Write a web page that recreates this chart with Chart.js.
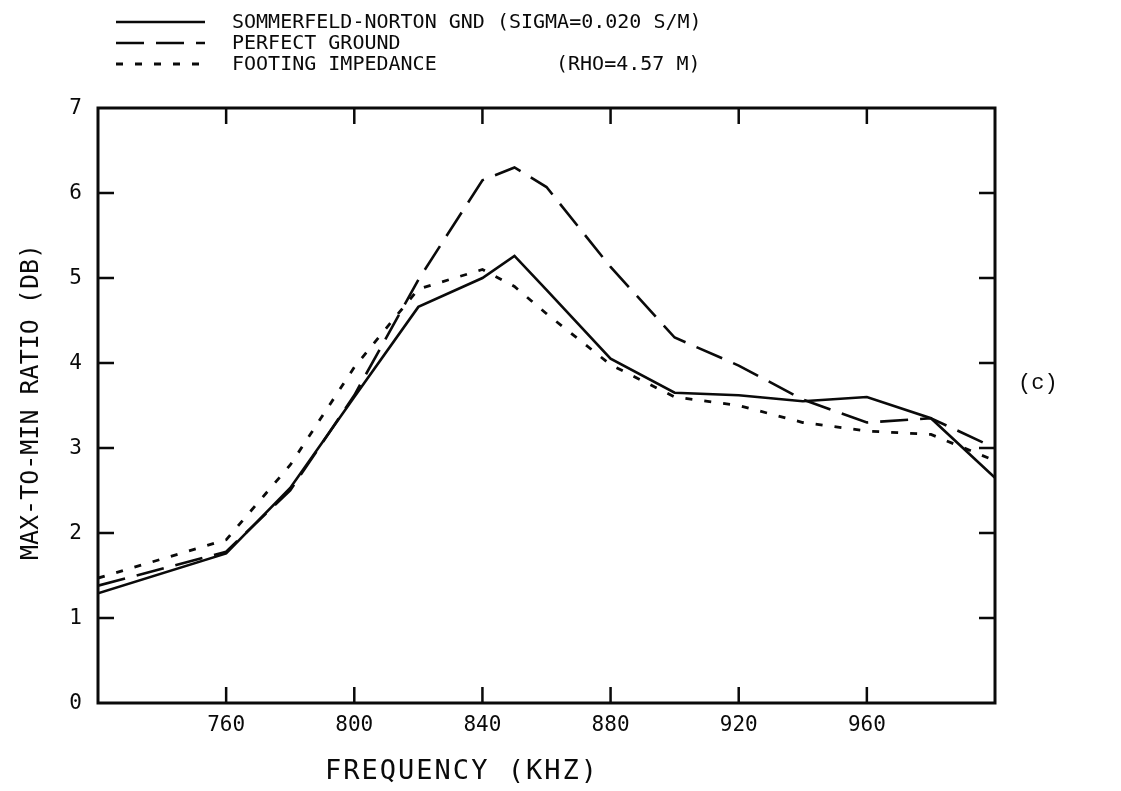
<!DOCTYPE html>
<html>
<head>
<meta charset="utf-8">
<script src="https://cdn.jsdelivr.net/npm/chart.js@4.4.1/dist/chart.umd.min.js"></script>
<style>
  html, body { margin: 0; padding: 0; background: #fff; }
  #chart { display: block; }
</style>
</head>
<body>
<canvas id="chart" width="1121" height="791"></canvas>
<script>
// frequency points (kHz)
const freqs = [720, 760, 780, 800, 820, 840, 850, 860, 880, 900, 920, 940, 960, 980, 1000];

// max-to-min ratio (dB) per series
const sommerfeld = [1.29, 1.76, 2.53, 3.60, 4.66, 5.00, 5.26, 4.86, 4.05, 3.65, 3.62, 3.55, 3.60, 3.35, 2.65];
const perfect    = [1.38, 1.78, 2.50, 3.62, 4.98, 6.15, 6.30, 6.07, 5.13, 4.30, 3.97, 3.57, 3.30, 3.35, 3.00];
const footing    = [1.47, 1.92, 2.80, 3.95, 4.87, 5.10, 4.90, 4.58, 3.98, 3.60, 3.50, 3.30, 3.20, 3.16, 2.85];

const seriesNames = ["SOMMERFELD-NORTON GND (SIGMA=0.020 S/M)", "PERFECT GROUND", "FOOTING IMPEDANCE"];
const seriesNotes = ["", "", "(RHO=4.57 M)"];

const xTicks = [720, 760, 800, 840, 880, 920, 960, 1000];
const yTicks = [0, 1, 2, 3, 4, 5, 6, 7];

const ink = "#0a0a0a";
const plotFont = "'DejaVu Sans Mono', monospace";

function toPoints(vals) {
  return freqs.map(function(f, i) { return { x: f, y: vals[i] }; });
}

// frame, inside ticks, labels, legend - drawn on top of the chart area
const frame = {
  id: "frame",
  afterDraw: function(chart) {
    const ctx = chart.ctx;
    const a = chart.chartArea;
    const xs = chart.scales.x;
    const ys = chart.scales.y;
    const tl = 16;

    ctx.save();
    ctx.strokeStyle = ink;
    ctx.fillStyle = ink;
    ctx.lineWidth = 3;
    ctx.strokeRect(a.left, a.top, a.right - a.left, a.bottom - a.top);

    ctx.lineWidth = 2.5;
    ctx.beginPath();
    xs.ticks.forEach(function(t) {
      if (t.value <= xs.min || t.value >= xs.max) return;
      const px = xs.getPixelForValue(t.value);
      ctx.moveTo(px, a.bottom); ctx.lineTo(px, a.bottom - tl);
      ctx.moveTo(px, a.top); ctx.lineTo(px, a.top + tl);
    });
    ys.ticks.forEach(function(t) {
      if (t.value <= ys.min || t.value >= ys.max) return;
      const py = ys.getPixelForValue(t.value);
      ctx.moveTo(a.left, py); ctx.lineTo(a.left + tl, py);
      ctx.moveTo(a.right, py); ctx.lineTo(a.right - tl, py);
    });
    ctx.stroke();

    // tick labels
    ctx.font = "21px " + plotFont;
    ctx.textBaseline = "middle";
    ctx.textAlign = "center";
    xs.ticks.forEach(function(t) {
      if (t.value <= xs.min || t.value >= xs.max) return;
      ctx.fillText(String(t.value), xs.getPixelForValue(t.value), a.bottom + 23);
    });
    ctx.textAlign = "right";
    ys.ticks.forEach(function(t) {
      ctx.fillText(String(t.value), a.left - 16, ys.getPixelForValue(t.value) + 1);
    });

    // axis titles
    ctx.font = "27px " + plotFont;
    ctx.letterSpacing = "2px";
    ctx.textAlign = "center";
    ctx.fillText("FREQUENCY (KHZ)", 462, 772);
    ctx.save();
    ctx.translate(31, 402);
    ctx.rotate(-Math.PI / 2);
    ctx.letterSpacing = "0px";
    ctx.font = "25px " + plotFont;
    ctx.fillText("MAX-TO-MIN RATIO (DB)", 0, 0);
    ctx.restore();
    ctx.letterSpacing = "0px";

    // legend
    const rows = [22, 43, 64];
    ctx.font = "20px " + plotFont;
    ctx.textAlign = "left";
    chart.data.datasets.forEach(function(ds, i) {
      ctx.lineWidth = ds.borderWidth;
      ctx.setLineDash(ds.borderDash || []);
      ctx.beginPath();
      ctx.moveTo(116, rows[i]);
      ctx.lineTo(205, rows[i]);
      ctx.stroke();
      ctx.setLineDash([]);
      ctx.fillText(seriesNames[i], 232, rows[i] + 1);
      if (seriesNotes[i]) ctx.fillText(seriesNotes[i], 556, rows[i] + 1);
    });

    // panel tag
    ctx.font = "22px 'Liberation Mono', monospace";
    ctx.fillText("(c)", 1018, 383);
    ctx.restore();
  }
};

new Chart(document.getElementById("chart"), {
  type: "line",
  data: {
    datasets: [
      { label: seriesNames[0], data: toPoints(sommerfeld), borderColor: ink, borderWidth: 2.6, pointRadius: 0, tension: 0 },
      { label: seriesNames[1], data: toPoints(perfect), borderColor: ink, borderWidth: 2.6, borderDash: [28, 12], pointRadius: 0, tension: 0 },
      { label: seriesNames[2], data: toPoints(footing), borderColor: ink, borderWidth: 2.8, borderDash: [7, 12], pointRadius: 0, tension: 0 }
    ]
  },
  options: {
    responsive: false,
    devicePixelRatio: 1,
    animation: false,
    layout: { padding: { left: 98, top: 108, right: 126, bottom: 88 } },
    plugins: { legend: { display: false }, tooltip: { enabled: false } },
    scales: {
      x: {
        type: "linear", display: false, min: 720, max: 1000,
        afterBuildTicks: function(s) { s.ticks = xTicks.map(function(v) { return { value: v }; }); }
      },
      y: {
        type: "linear", display: false, min: 0, max: 7,
        afterBuildTicks: function(s) { s.ticks = yTicks.map(function(v) { return { value: v }; }); }
      }
    }
  },
  plugins: [frame]
});
</script>
</body>
</html>
